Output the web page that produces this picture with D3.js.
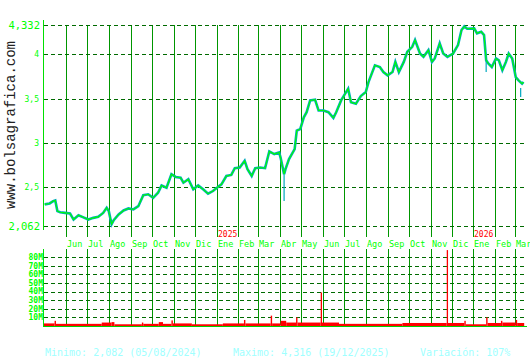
<!DOCTYPE html>
<html>
<head>
<meta charset="utf-8">
<script src="https://cdn.jsdelivr.net/npm/d3@7"></script>
<style>
body { margin: 0; background: #fff; }
text { font-family: "DejaVu Sans Mono", "Liberation Mono", monospace; }
</style>
</head>
<body>
<div id="chart"></div>
<script>
// closing prices
var closeSeries = [
  ["2024-05-02",2.306],["2024-05-09",2.317],["2024-05-14",2.343],["2024-05-17",2.350],
  ["2024-05-20",2.230],["2024-05-24",2.218],["2024-05-31",2.210],["2024-06-07",2.203],
  ["2024-06-12",2.135],["2024-06-19",2.184],["2024-06-26",2.160],["2024-07-03",2.135],
  ["2024-07-10",2.154],["2024-07-17",2.165],["2024-07-24",2.210],["2024-07-29",2.267],
  ["2024-08-01",2.230],["2024-08-05",2.082],["2024-08-08",2.127],["2024-08-15",2.192],
  ["2024-08-22",2.237],["2024-08-29",2.260],["2024-09-05",2.249],["2024-09-12",2.286],
  ["2024-09-19",2.410],["2024-09-26",2.420],["2024-10-03",2.380],["2024-10-10",2.438],
  ["2024-10-15",2.520],["2024-10-22",2.495],["2024-10-29",2.647],["2024-11-04",2.616],
  ["2024-11-11",2.608],["2024-11-15",2.551],["2024-11-22",2.590],["2024-11-29",2.476],
  ["2024-12-06",2.520],["2024-12-13",2.476],["2024-12-20",2.427],["2024-12-27",2.457],
  ["2025-01-03",2.502],["2025-01-08",2.533],["2025-01-15",2.627],["2025-01-22",2.639],
  ["2025-01-27",2.715],["2025-02-03",2.722],["2025-02-10",2.798],["2025-02-14",2.704],
  ["2025-02-20",2.627],["2025-02-25",2.715],["2025-03-04",2.722],["2025-03-11",2.715],
  ["2025-03-17",2.904],["2025-03-24",2.874],["2025-03-31",2.892],["2025-04-02",2.835],
  ["2025-04-07",2.647],["2025-04-09",2.704],["2025-04-14",2.817],["2025-04-22",2.931],
  ["2025-04-25",3.139],["2025-04-30",3.158],["2025-05-05",3.290],["2025-05-09",3.347],
  ["2025-05-14",3.480],["2025-05-21",3.488],["2025-05-26",3.366],["2025-06-02",3.366],
  ["2025-06-09",3.347],["2025-06-16",3.283],["2025-06-20",3.347],["2025-06-27",3.480],
  ["2025-07-07",3.613],["2025-07-11",3.460],["2025-07-18",3.442],["2025-07-25",3.530],
  ["2025-08-01",3.574],["2025-08-05",3.690],["2025-08-14",3.877],["2025-08-21",3.858],
  ["2025-08-26",3.801],["2025-09-01",3.764],["2025-09-08",3.801],["2025-09-12",3.915],
  ["2025-09-17",3.801],["2025-09-24",3.915],["2025-09-29",4.029],["2025-10-06",4.085],
  ["2025-10-10",4.162],["2025-10-17",4.010],["2025-10-22",3.972],["2025-10-29",4.048],
  ["2025-11-03",3.915],["2025-11-07",3.954],["2025-11-14",4.124],["2025-11-19",4.010],
  ["2025-11-25",3.972],["2025-12-03",4.010],["2025-12-10",4.105],["2025-12-15",4.275],
  ["2025-12-19",4.316],["2025-12-23",4.290],["2026-01-02",4.294],["2026-01-06",4.238],
  ["2026-01-12",4.256],["2026-01-16",4.218],["2026-01-19",3.934],["2026-01-22",3.897],
  ["2026-01-27",3.858],["2026-02-02",3.954],["2026-02-06",3.934],["2026-02-11",3.821],
  ["2026-02-16",3.915],["2026-02-20",4.010],["2026-02-25",3.954],["2026-03-02",3.744],
  ["2026-03-06",3.707],["2026-03-11",3.669],["2026-03-13",3.688]
];

// intraday lows that poke out below the close line
var lowSpikes = [["2025-04-07",2.343],["2026-01-19",3.80],["2026-03-09",3.52]];

// volume in millions, each value holds until the next date
var volumeSeries = [
  ["2024-05-01",3],["2024-05-16",6],["2024-05-18",2.5],["2024-07-22",4],
  ["2024-08-05",4.5],["2024-08-09",2],["2024-09-17",4],["2024-09-19",2.5],
  ["2024-10-11",4.5],["2024-10-17",2.5],["2024-10-29",6.5],["2024-10-31",3],
  ["2024-11-27",2],["2025-01-10",3],["2025-02-09",7],["2025-02-11",3],
  ["2025-03-19",12],["2025-03-21",3],["2025-04-02",6],["2025-04-10",4],
  ["2025-04-24",10],["2025-04-26",4],["2025-05-29",39],["2025-05-30",4],
  ["2025-06-24",2.5],["2025-09-22",3.5],["2025-11-24",88],["2025-11-25",3.5],
  ["2025-12-19",6],["2025-12-21",2],["2026-01-19",10],["2026-01-21",3.5],
  ["2026-02-09",6],["2026-02-11",4],["2026-03-02",7],["2026-03-04",3.5]
];
var lastDate = "2026-03-14";

var priceTicks = [4.332, 4, 3.5, 3, 2.5, 2.062];
var volumeTicks = [10, 20, 30, 40, 50, 60, 70, 80];
var monthNames = ["Ene","Feb","Mar","Abr","May","Jun","Jul","Ago","Sep","Oct","Nov","Dic"];
var summaryTexts = ["Minimo: 2,082 (05/08/2024)", "Maximo: 4,316 (19/12/2025)", "Variación: 107%"];

var width = 530, height = 360;
var left = 44, right = 527;

var parseDate = d3.timeParse("%Y-%m-%d");
var commaFmt = function(v){ return String(v).replace(".", ","); };

var closes = closeSeries.map(function(d){ return {date: parseDate(d[0]), value: d[1]}; });
var lows = lowSpikes.map(function(d){ return {date: parseDate(d[0]), value: d[1]}; });
var vols = volumeSeries.map(function(d){ return {date: parseDate(d[0]), value: d[1]}; });

var x = d3.scaleTime()
          .domain([parseDate("2024-05-01"), parseDate("2026-03-18")])
          .range([left, right]);

var y = d3.scaleLinear()
          .domain([2.062, 4.332])
          .range([226, 25]);

var yv = d3.scaleLinear()
           .domain([0, 80])
           .range([326, 257]);

var svg = d3.select("#chart")
            .append("svg")
            .attr("width", width)
            .attr("height", height);

svg.append("rect").attr("width", width).attr("height", height).attr("fill", "#fff");

// watermark
svg.append("text")
   .attr("transform", "translate(15,125) rotate(-90)")
   .attr("text-anchor", "middle")
   .style("font-family", "'Liberation Mono', monospace")
   .style("font-size", "14px")
   .attr("fill", "#222")
   .text("www.bolsagrafica.com");

var months = x.ticks(d3.timeMonth.every(1)).filter(function(d){ return d > x.domain()[0]; });

// month lines, price panel and volume panel
svg.append("g").selectAll("line")
   .data(months).enter().append("line")
   .attr("x1", function(d){ return Math.round(x(d)) + 0.5; })
   .attr("x2", function(d){ return Math.round(x(d)) + 0.5; })
   .attr("y1", 25).attr("y2", 237)
   .attr("stroke", "#009600");

svg.append("g").selectAll("line")
   .data(months).enter().append("line")
   .attr("x1", function(d){ return Math.round(x(d)) + 0.5; })
   .attr("x2", function(d){ return Math.round(x(d)) + 0.5; })
   .attr("y1", 249).attr("y2", 325)
   .attr("stroke", "#009600");

// horizontal dashed gridlines
svg.append("g").selectAll("line")
   .data(priceTicks).enter().append("line")
   .attr("x1", left).attr("x2", right)
   .attr("y1", function(d){ return Math.round(y(d)) + 0.5; })
   .attr("y2", function(d){ return Math.round(y(d)) + 0.5; })
   .attr("stroke", "#006a00")
   .attr("stroke-dasharray", "4,3");

svg.append("g").selectAll("line")
   .data(volumeTicks).enter().append("line")
   .attr("x1", left).attr("x2", right)
   .attr("y1", function(d){ return Math.round(yv(d)) + 0.5; })
   .attr("y2", function(d){ return Math.round(yv(d)) + 0.5; })
   .attr("stroke", "#006a00")
   .attr("stroke-dasharray", "4,3");

// price labels
svg.append("g").selectAll("text")
   .data(priceTicks).enter().append("text")
   .attr("x", function(d,i){ return (i === 0 || i === priceTicks.length - 1) ? 40 : 39; })
   .attr("y", function(d){ return y(d); })
   .attr("dy", "0.36em")
   .attr("text-anchor", "end")
   .attr("fill", "#00ff00")
   .style("font-size", function(d,i){ return (i === 0 || i === priceTicks.length - 1) ? "10.5px" : "8px"; })
   .text(commaFmt);

// volume labels
svg.append("g").selectAll("text")
   .data(volumeTicks).enter().append("text")
   .attr("x", 43)
   .attr("y", function(d){ return yv(d); })
   .attr("dy", "0.36em")
   .attr("text-anchor", "end")
   .attr("fill", "#00ff00")
   .style("font-size", "8px")
   .style("font-weight", "bold")
   .text(function(d){ return d + "M"; });

// month and year labels
svg.append("g").selectAll("text")
   .data(months).enter().append("text")
   .attr("x", function(d){ return Math.round(x(d)) + 1; })
   .attr("y", 247)
   .attr("fill", "#00ff00")
   .style("font-size", "8.5px")
   .text(function(d){ return monthNames[d.getMonth()]; });

svg.append("g").selectAll("text")
   .data(months.filter(function(d){ return d.getMonth() === 0; })).enter().append("text")
   .attr("x", function(d){ return Math.round(x(d)) + 1; })
   .attr("y", 236.5)
   .attr("fill", "#ff0000")
   .style("font-size", "8px")
   .text(function(d){ return d.getFullYear(); });

// volume bars
var end = parseDate(lastDate);
svg.append("g").selectAll("rect")
   .data(vols).enter().append("rect")
   .attr("x", function(d){ return x(d.date); })
   .attr("width", function(d,i){
      var next = i < vols.length - 1 ? vols[i+1].date : end;
      return Math.max(1.3, x(next) - x(d.date));
   })
   .attr("y", function(d){ return yv(d.value); })
   .attr("height", function(d){ return yv(0) - yv(d.value); })
   .attr("fill", "#ff0000");

// axis lines
svg.append("line").attr("x1", left - 0.5).attr("x2", left - 0.5).attr("y1", 20).attr("y2", 230)
   .attr("stroke", "#00e000");
svg.append("line").attr("x1", left - 0.5).attr("x2", left - 0.5).attr("y1", 249).attr("y2", 327)
   .attr("stroke", "#00e000");
svg.append("line").attr("x1", left - 1).attr("x2", right).attr("y1", 326.5).attr("y2", 326.5)
   .attr("stroke", "#00d000").attr("stroke-width", 1);

// price: teal range underneath, green close on top
var line = d3.line()
             .x(function(d){ return x(d.date); })
             .y(function(d){ return y(d.value); });

var closeByDate = {};
closes.forEach(function(d){ closeByDate[+d.date] = d.value; });

svg.append("g").selectAll("line")
   .data(lows).enter().append("line")
   .attr("x1", function(d){ return x(d.date); })
   .attr("x2", function(d){ return x(d.date); })
   .attr("y1", function(d){ return y(closeByDate[+d.date] || d.value + 0.1); })
   .attr("y2", function(d){ return y(d.value); })
   .attr("stroke", "#00a8c0")
   .attr("stroke-width", 1.2);

svg.append("path")
   .attr("d", line(closes))
   .attr("fill", "none")
   .attr("stroke", "#00a8c0")
   .attr("stroke-width", 2.6);

svg.append("path")
   .attr("d", line(closes))
   .attr("fill", "none")
   .attr("stroke", "#00ff00")
   .attr("stroke-width", 1.1);

// summary line
var summaryX = [45, 233, 420];
svg.append("g").selectAll("text")
   .data(summaryTexts).enter().append("text")
   .attr("x", function(d,i){ return summaryX[i]; })
   .attr("y", 356)
   .attr("fill", "#a0ffff")
   .style("font-size", "10px")
   .text(function(d){ return d; });
</script>
</body>
</html>
